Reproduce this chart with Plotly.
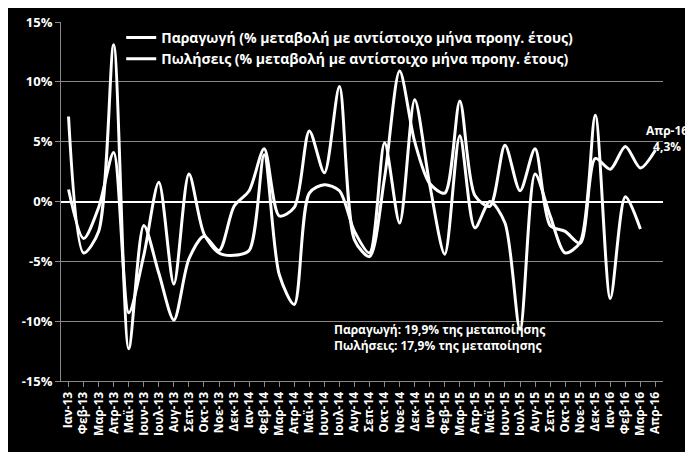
import plotly.graph_objects as go

months = ["Ιαν-13","Φεβ-13","Μαρ-13","Απρ-13","Μαϊ-13","Ιουν-13","Ιουλ-13","Αυγ-13","Σεπ-13","Οκτ-13","Νοε-13","Δεκ-13",
          "Ιαν-14","Φεβ-14","Μαρ-14","Απρ-14","Μαϊ-14","Ιουν-14","Ιουλ-14","Αυγ-14","Σεπ-14","Οκτ-14","Νοε-14","Δεκ-14",
          "Ιαν-15","Φεβ-15","Μαρ-15","Απρ-15","Μαϊ-15","Ιουν-15","Ιουλ-15","Αυγ-15","Σεπ-15","Οκτ-15","Νοε-15","Δεκ-15",
          "Ιαν-16","Φεβ-16","Μαρ-16","Απρ-16"]
production = [1.0,-3.1,-0.5,4.1,-9.3,-4.5,1.6,-6.9,2.3,-2.7,-4.3,-4.5,
              -4.1,3.9,-6.1,-8.6,0.7,1.4,0.9,-2.5,-4.3,4.9,-1.8,8.5,
              1.4,-4.4,5.5,-2.2,0.0,-1.8,-10.7,2.3,-1.2,-4.3,-3.4,7.2,
              -8.1,0.4,-2.3,None]
sales = [7.1,-4.3,-2.5,13.1,-12.3,-2.0,-6.0,-9.9,-4.8,-2.9,-4.1,-0.4,
         0.9,4.4,-1.2,-0.5,5.9,2.4,9.6,-3.2,-4.6,2.0,10.9,5.0,
         1.5,0.7,8.4,0.5,-0.4,4.7,0.9,4.4,-2.0,-2.5,-3.5,3.6,
         2.7,4.6,2.8,4.3]
tick_vals = [-15,-10,-5,0,5,10,15]
tick_text = ["-15%","-10%","-5%","0%","5%","10%","15%"]

fam = "Open Sans, Liberation Sans, sans-serif"
fig = go.Figure()
fig.add_trace(go.Scatter(x=months, y=production, mode="lines", line=dict(color="white", width=3, shape="spline", smoothing=0.8),
                         name="Παραγωγή (% μεταβολή με αντίστοιχο μήνα προηγ. έτους)"))
fig.add_trace(go.Scatter(x=months, y=sales, mode="lines", line=dict(color="white", width=3, shape="spline", smoothing=0.8),
                         name="Πωλήσεις (% μεταβολή με αντίστοιχο μήνα προηγ. έτους)"))
fig.update_layout(
    width=693, height=452, paper_bgcolor="black", plot_bgcolor="black",
    margin=dict(l=53, r=38, t=14, b=79, autoexpand=False),
    font=dict(family=fam, color="white", size=12), showlegend=True,
    legend=dict(x=0.1, y=1.0, xanchor="left", yanchor="top", bgcolor="rgba(0,0,0,0)",
                font=dict(size=14, color="white", family=fam, weight="bold"), tracegroupgap=4, itemwidth=30),
    xaxis=dict(tickangle=-90, showgrid=False, linecolor="#888", ticks="outside", tickcolor="#888",
               tickfont=dict(size=12, color="white", weight="bold"), range=[-0.5, 39.5]),
    yaxis=dict(range=[-15, 15], tickvals=tick_vals, ticktext=tick_text, gridcolor="#888", zeroline=True,
               zerolinecolor="white", zerolinewidth=2, linecolor="#888", showline=True, ticks="outside", tickcolor="#888",
               tickfont=dict(size=13, color="white", weight="bold")),
    annotations=[
        dict(x=1.0, y=4.3, xref="paper", yref="y", text="<b>Απρ-16<br>4,3%</b>", showarrow=False, xanchor="center", xshift=4, yshift=12,
             font=dict(size=12, color="white"), align="center"),
        dict(x=0.45, y=0.07, xref="paper", yref="paper", text="<b>Παραγωγή: 19,9% της μεταποίησης<br>Πωλήσεις: 17,9% της μεταποίησης</b>",
             showarrow=False, xanchor="left", align="left", font=dict(size=12, color="white")),
    ],
)
fig.write_html("out.html")
